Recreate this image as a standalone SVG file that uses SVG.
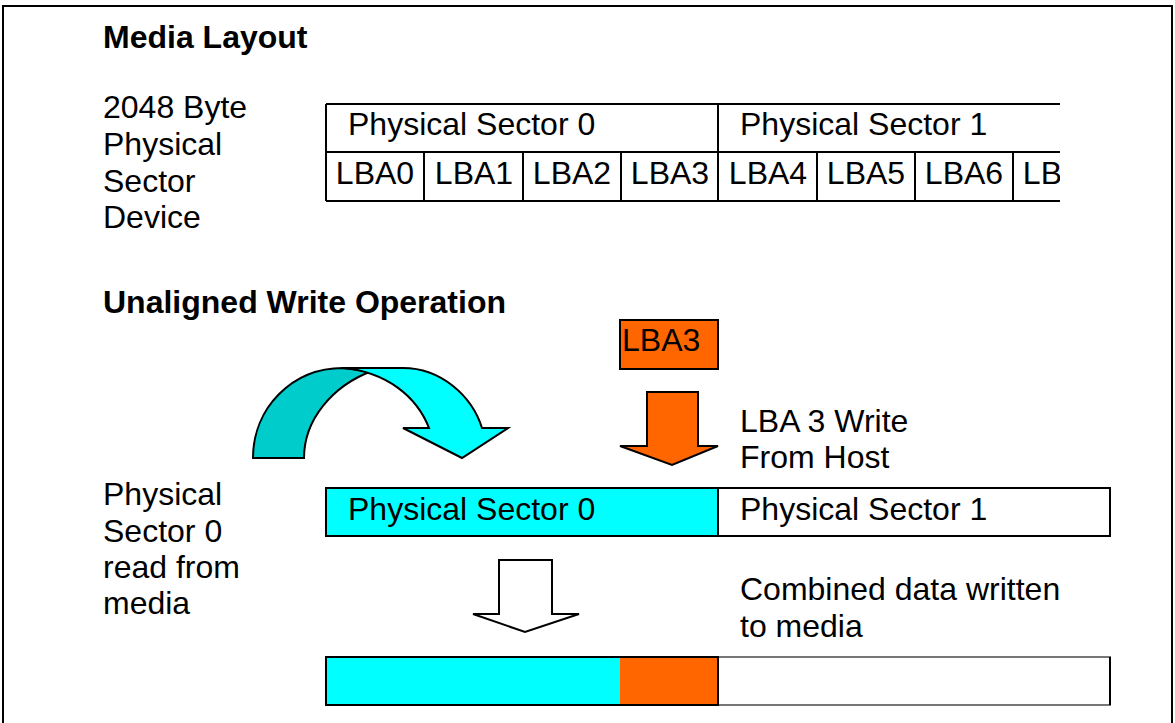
<svg xmlns="http://www.w3.org/2000/svg" width="1175" height="723" viewBox="0 0 1175 723">
<style>
text{font-family:"Liberation Sans",Arial,sans-serif;font-size:32px;fill:#000}
.b{font-weight:bold}
.m{text-anchor:middle}
.ln{stroke:#000;stroke-width:2;fill:none}
.bx{stroke:#000;stroke-width:2}
</style>
<rect x="3" y="6" width="1169" height="740" fill="#fff" stroke="#000" stroke-width="2"/>
<g id="titles">
<text class="b" x="103" y="48">Media Layout</text>
<text class="b" x="103" y="313">Unaligned Write Operation</text>
</g>
<g id="device-label">
<text x="103" y="118">2048 Byte</text>
<text x="103" y="155">Physical</text>
<text x="103" y="192">Sector</text>
<text x="103" y="228">Device</text>
</g>
<g id="media-table">
<path class="ln" d="M326,104 H1060 M326,152 H1060 M326,201 H1060 M326,104 V201 M718,104 V201 M424,152 V201 M523,152 V201 M621,152 V201 M817,152 V201 M915,152 V201 M1013,152 V201"/>
<text x="348" y="135">Physical Sector 0</text>
<text x="740" y="135">Physical Sector 1</text>
<text class="m" x="375" y="184">LBA0</text>
<text class="m" x="474" y="184">LBA1</text>
<text class="m" x="572" y="184">LBA2</text>
<text class="m" x="670" y="184">LBA3</text>
<text class="m" x="768" y="184">LBA4</text>
<text class="m" x="866" y="184">LBA5</text>
<text class="m" x="964" y="184">LBA6</text>
<svg x="1013" y="150" width="47" height="52" viewBox="1013 150 47 52" overflow="hidden"><text class="m" x="1062" y="184">LBA7</text></svg>
</g>
<g id="lba3-box">
<rect class="bx" x="620" y="320" width="98" height="49" fill="#FF6600"/>
<text x="622" y="351">LBA3</text>
</g>
<g id="connectors">
<path id="curved-arrow-back" class="bx" fill="#00CCCC" d="M253,458 C253,408 292,368 343,368 L372,371 C332,386 304,420 304,458 Z"/>
<path id="curved-arrow-front" class="bx" fill="#00FFFF" stroke-linejoin="miter" d="M343,368 L403,368 C441,368 472,396 482,428 L508,428 L462,458 L403,428 L429,428 C417,397 387,372 343,368 Z"/>
<path id="orange-arrow" class="bx" fill="#FF6600" d="M647,392 H698 V446 H718 L672,465 L620,446 H647 Z"/>
<path id="hollow-arrow" class="bx" fill="#fff" d="M499,560 H552 V614 H579 L525,632 L473,614 H499 Z"/>
</g>
<g id="write-label">
<text x="740" y="432">LBA 3 Write</text>
<text x="740" y="468">From Host</text>
</g>
<g id="read-label">
<text x="103" y="505">Physical</text>
<text x="103" y="542">Sector 0</text>
<text x="103" y="578">read from</text>
<text x="103" y="614">media</text>
</g>
<g id="sector-bar">
<rect class="bx" x="326" y="488" width="392" height="48" fill="#00FFFF"/>
<rect class="bx" x="718" y="488" width="392" height="48" fill="#fff"/>
<text x="348" y="520">Physical Sector 0</text>
<text x="740" y="520">Physical Sector 1</text>
</g>
<g id="combined-label">
<text x="740" y="600">Combined data written</text>
<text x="740" y="637">to media</text>
</g>
<g id="combined-bar">
<rect x="326" y="657" width="294" height="48" fill="#00FFFF"/>
<rect x="620" y="657" width="98" height="48" fill="#FF6600"/>
<rect x="718" y="657" width="392" height="48" fill="#fff" stroke="#777" stroke-width="2"/>
<line x1="1110" y1="657" x2="1110" y2="705" stroke="#000" stroke-width="2"/>
<rect x="326" y="657" width="392" height="48" fill="none" stroke="#000" stroke-width="2"/>
</g>
</svg>
